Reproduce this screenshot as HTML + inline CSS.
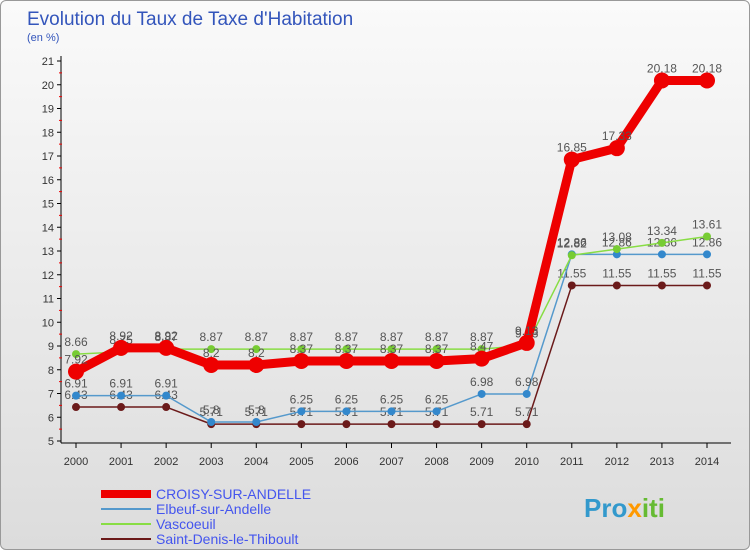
<!DOCTYPE html>
<html><head><meta charset="utf-8"><style>
body{margin:0;width:750px;height:550px;overflow:hidden;font-family:"Liberation Sans",sans-serif}
#wrap{position:absolute;left:0;top:0;width:748px;height:548px;border:1px solid #999;border-radius:6px;background:linear-gradient(#fafafa,#dcdcdc)}
</style></head><body>
<div id="wrap">
<svg id="c" width="750" height="550" xmlns="http://www.w3.org/2000/svg">
<text x="26" y="24" font-size="19" fill="#3355bb">Evolution du Taux de Taxe d'Habitation</text>
<text x="26" y="40" font-size="11" fill="#3355bb">(en %)</text>
<g id="axes"></g><g id="series"></g><g id="legend"></g>
<text x="583" y="516" font-size="26" font-weight="bold" fill="#3399cc">Pro<tspan fill="#ff9900">x</tspan><tspan fill="#66bb33">iti</tspan></text>
</svg></div>
<script>
const years=[2000,2001,2002,2003,2004,2005,2006,2007,2008,2009,2010,2011,2012,2013,2014];
const yTicks=[5,6,7,8,9,10,11,12,13,14,15,16,17,18,19,20,21];
const croisy=[7.92,8.92,8.92,8.2,8.2,8.37,8.37,8.37,8.37,8.47,9.13,16.85,17.33,20.18,20.18];
const elbeuf=[6.91,6.91,6.91,5.8,5.8,6.25,6.25,6.25,6.25,6.98,6.98,12.86,12.86,12.86,12.86];
const vascoeuil=[8.66,8.75,8.87,8.87,8.87,8.87,8.87,8.87,8.87,8.87,9.03,12.82,13.08,13.34,13.61];
const stdenis=[6.43,6.43,6.43,5.71,5.71,5.71,5.71,5.71,5.71,5.71,5.71,11.55,11.55,11.55,11.55];
const names=["CROISY-SUR-ANDELLE","Elbeuf-sur-Andelle","Vascoeuil","Saint-Denis-le-Thiboult"];
const NS="http://www.w3.org/2000/svg";
const X=i=>75+i*(706-75)/(years.length-1);
const Y=v=>440-(v-5)*(380/16);
function mk(t,a,p){const e=document.createElementNS(NS,t);for(const k in a)e.setAttribute(k,a[k]);p.appendChild(e);return e;}
const ax=document.getElementById('axes');
let l=mk('line',{x1:60,y1:55,x2:60,y2:442,stroke:'#000'},ax);


l=mk('line',{x1:60,y1:442,x2:730,y2:442,stroke:'#000'},ax);


yTicks.forEach(v=>{
 mk('line',{x1:56,y1:Y(v),x2:60,y2:Y(v),stroke:'#000'},ax);
 if(v<21)mk('line',{x1:58,y1:Y(v+0.5),x2:61,y2:Y(v+0.5),stroke:'#e00'},ax);
 const t=mk('text',{x:53,y:Y(v)+4,'font-size':11,'text-anchor':'end',fill:'#333'},ax);t.textContent=v;
 
 
});
years.forEach((y,i)=>{
 mk('line',{x1:X(i),y1:442,x2:X(i),y2:447,stroke:'#000'},ax);
 const t=mk('text',{x:X(i),y:464,'font-size':11,'text-anchor':'middle',fill:'#333'},ax);t.textContent=y;
 
 
});
const sg=document.getElementById('series');
const defs=[[stdenis,'#6b1a1a','#6b1a1a',1.5,4],[elbeuf,'#5599cc','#3388cc',1.5,4],[vascoeuil,'#88dd44','#77cc33',1.5,4],[croisy,'#ee0000','#ee0000',9,8]];
const order=[3,1,2,0];
defs.forEach((d,k)=>{
 const g=mk('g',{},sg);
 
 
 const p=mk('polyline',{points:d[0].map((v,i)=>X(i)+','+Y(v)).join(' '),fill:'none',stroke:d[1],'stroke-width':d[3],'stroke-linejoin':'round'},g);
 
 
 d[0].forEach((v,i)=>{
  const c=mk('circle',{cx:X(i),cy:Y(v),r:d[4],fill:d[2]},g);
  
  
  const t=mk('text',{x:X(i),y:Y(v)-8,'font-size':12,'text-anchor':'middle',fill:'#555'},g);t.textContent=v;
  
  
 });
});
const lg=document.getElementById('legend');
const lc=[['#ee0000',8],['#5599cc',2],['#88dd44',2],['#6b1a1a',2]];
names.forEach((n,i)=>{
 const y=493+i*15;
 const g=mk('g',{},lg);
 
 
 mk('line',{x1:100,y1:y,x2:150,y2:y,stroke:lc[i][0],'stroke-width':lc[i][1]},g);
 const t=mk('text',{x:155,y:y+5,'font-size':14,fill:'#4455ee'},g);t.textContent=n;
});
</script>
</body></html>
